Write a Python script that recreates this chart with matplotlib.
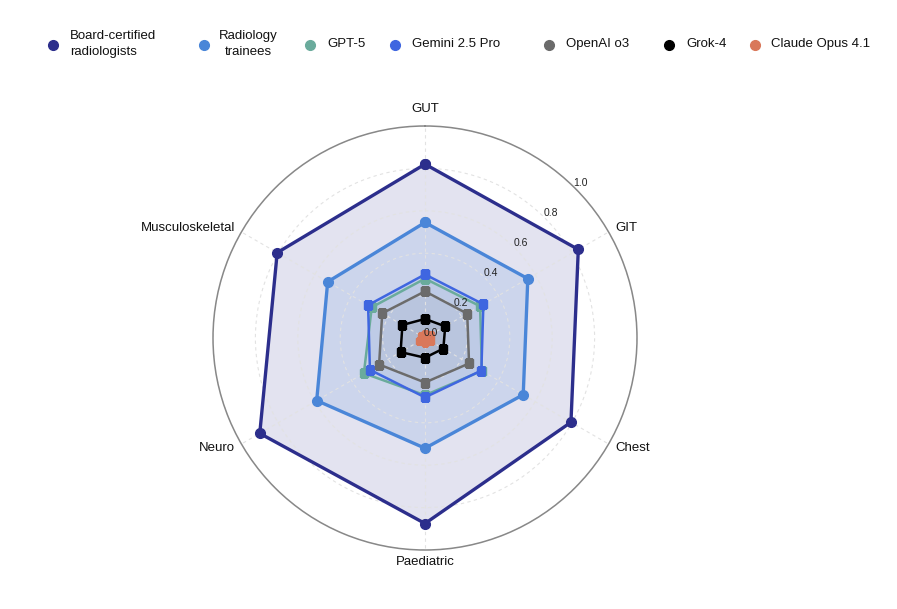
import numpy as np
import matplotlib
matplotlib.use("Agg")
import matplotlib.pyplot as plt
from matplotlib.lines import Line2D
from matplotlib.transforms import ScaledTranslation

plt.rcParams['font.family'] = ['Liberation Sans', 'DejaVu Sans']

categories = ["GUT", "GIT", "Chest", "Paediatric", "Neuro", "Musculoskeletal"]

series_names = ["Board-certified\nradiologists", "Radiology\ntrainees", "GPT-5",
                "Gemini 2.5 Pro", "OpenAI o3", "Grok-4", "Claude Opus 4.1"]

board = [0.82, 0.835, 0.795, 0.875, 0.90, 0.805]
trainees = [0.545, 0.56, 0.535, 0.52, 0.59, 0.53]
gpt5 = [0.28, 0.30, 0.31, 0.27, 0.333, 0.29]
gemini = [0.30, 0.318, 0.307, 0.28, 0.30, 0.31]
o3 = [0.22, 0.23, 0.24, 0.21, 0.25, 0.233]
grok = [0.09, 0.11, 0.10, 0.093, 0.133, 0.123]
claude = [0.02, 0.03, 0.03, 0.025, 0.03, 0.02]

radial_ticks = [0.0, 0.2, 0.4, 0.6, 0.8, 1.0]

colors = ["#2c2e8c", "#4a86d8", "#6aab9c", "#3f66e0", "#6b6b6b", "#000000", "#d9785a"]
markers = ["o", "o", "s", "s", "s", "s", "s"]
lws = [2.4, 2.4, 1.8, 1.8, 1.8, 1.8, 1.8]
msizes = [7, 7, 6, 6, 6, 6, 5]
fill_alphas = [0.13, 0.15, 0.06, 0.06, 0.06, 0.06, 0.3]

values = [board, trainees, gpt5, gemini, o3, grok, claude]

W, H = 897, 609
fig = plt.figure(figsize=(W / 100, H / 100), dpi=100)
cx, cy, R = 425, 338, 212
ax = fig.add_axes([(cx - R) / W, (H - cy - R) / H, 2 * R / W, 2 * R / H], projection="polar")
ax.set_theta_zero_location("N")
ax.set_theta_direction(-1)

n = len(categories)
angles = np.linspace(0, 2 * np.pi, n, endpoint=False)
ang_closed = np.concatenate([angles, angles[:1]])

for i, (vals, name) in enumerate(zip(values, series_names)):
    v = np.array(vals + vals[:1])
    ax.fill(ang_closed, v, color=colors[i], alpha=fill_alphas[i], lw=0, zorder=1 + i * 0.01)
    ax.plot(ang_closed, v, color=colors[i], lw=lws[i], marker=markers[i],
            markersize=msizes[i], zorder=3 + i * 0.01, label=name)

ax.set_ylim(0, 1.0)
ax.set_yticks(radial_ticks)
ax.set_yticklabels([])
ax.set_xticks(angles)
ax.set_xticklabels([])
ax.grid(True, color="#e2e2e2", linestyle=(0, (3, 3)), lw=0.8)
ax.spines["polar"].set_color("#888888")
ax.spines["polar"].set_linewidth(1.1)
ax.set_facecolor("white")
ax.tick_params(axis="both", length=0)

# radial tick labels along 45 degrees, drawn above the traces
off = ax.transData + ScaledTranslation(6 / 100, 5 / 100, fig.dpi_scale_trans)
for t in radial_ticks:
    ax.text(np.radians(45), t, f"{t:.1f}", transform=off, ha="center", va="center",
            fontsize=7.5, color="#222222", zorder=10, clip_on=False)

# category labels
for a, c in zip(angles, categories):
    deg = np.degrees(a)
    if np.isclose(deg, 0):
        ha, va, r = "center", "bottom", 1.05
    elif np.isclose(deg, 180):
        ha, va, r = "center", "top", 1.03
    elif deg < 180:
        ha, va, r = "left", "center", 1.035
    else:
        ha, va, r = "right", "center", 1.035
    ax.text(a, r, c, ha=ha, va=va, fontsize=9.5, color="#111111", clip_on=False)

# legend (manual, horizontal)
leg_marker_x = [53, 204, 310, 395, 549, 669, 755]
leg_text_x = [70, 248, 327, 412, 566, 686, 771]
leg_text_ha = ["left", "center", "left", "left", "left", "left", "left"]
leg_y = 45
for i, name in enumerate(series_names):
    fig.add_artist(Line2D([leg_marker_x[i] / W], [1 - leg_y / H], marker="o",
                          markersize=7, color=colors[i], linestyle="none",
                          transform=fig.transFigure))
    fig.text(leg_text_x[i] / W, 1 - (leg_y - 1) / H, name, ha=leg_text_ha[i],
             va="center", fontsize=9.5, color="#111111", multialignment=leg_text_ha[i],
             linespacing=1.35)

fig.savefig("out.png", dpi=100, facecolor="white")
